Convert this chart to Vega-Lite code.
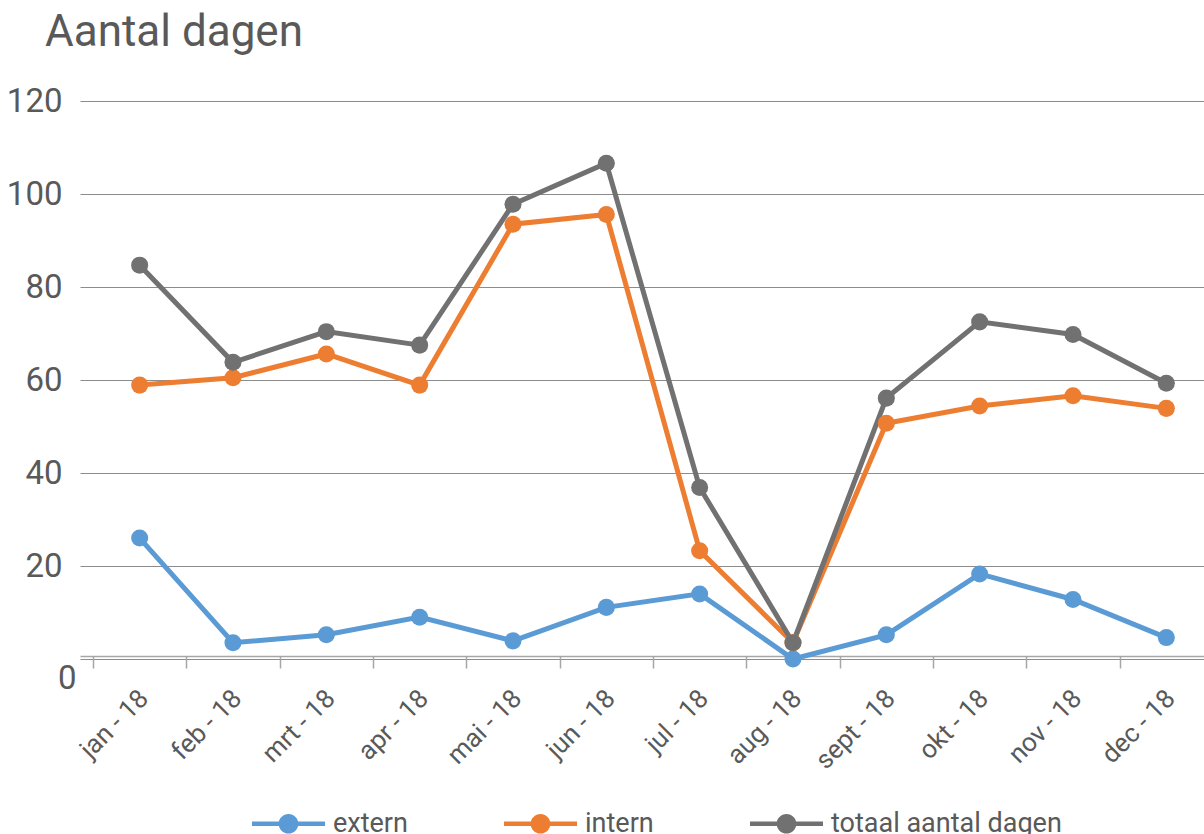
{
  "$schema": "https://vega.github.io/schema/vega-lite/v6.json",
  "width": 1133,
  "height": 558,
  "autosize": "none",
  "padding": {"left": 80, "top": 101, "right": 0, "bottom": 175},
  "background": "white",
  "config": {"view": {"stroke": null}, "font": "Roboto"},
  "title": {"text": "Aantal dagen", "anchor": "start", "frame": "group", "dx": -35, "fontSize": 44, "font": "Roboto", "fontWeight": "normal", "color": "#595959", "baseline": "alphabetic", "offset": -5},
  "data": {"values": [
    {"month": "jan - 18", "series": "extern", "value": 26},
    {"month": "feb - 18", "series": "extern", "value": 3.5},
    {"month": "mrt - 18", "series": "extern", "value": 5.2},
    {"month": "apr - 18", "series": "extern", "value": 9},
    {"month": "mai - 18", "series": "extern", "value": 3.9},
    {"month": "jun - 18", "series": "extern", "value": 11.1},
    {"month": "jul - 18", "series": "extern", "value": 14},
    {"month": "aug - 18", "series": "extern", "value": 0},
    {"month": "sept - 18", "series": "extern", "value": 5.2},
    {"month": "okt - 18", "series": "extern", "value": 18.3},
    {"month": "nov - 18", "series": "extern", "value": 12.8},
    {"month": "dec - 18", "series": "extern", "value": 4.6},
    {"month": "jan - 18", "series": "intern", "value": 58.9},
    {"month": "feb - 18", "series": "intern", "value": 60.5},
    {"month": "mrt - 18", "series": "intern", "value": 65.6},
    {"month": "apr - 18", "series": "intern", "value": 58.9},
    {"month": "mai - 18", "series": "intern", "value": 93.5},
    {"month": "jun - 18", "series": "intern", "value": 95.6},
    {"month": "jul - 18", "series": "intern", "value": 23.3},
    {"month": "aug - 18", "series": "intern", "value": 3.5},
    {"month": "sept - 18", "series": "intern", "value": 50.7},
    {"month": "okt - 18", "series": "intern", "value": 54.4},
    {"month": "nov - 18", "series": "intern", "value": 56.6},
    {"month": "dec - 18", "series": "intern", "value": 53.9},
    {"month": "jan - 18", "series": "totaal aantal dagen", "value": 84.7},
    {"month": "feb - 18", "series": "totaal aantal dagen", "value": 63.8},
    {"month": "mrt - 18", "series": "totaal aantal dagen", "value": 70.4},
    {"month": "apr - 18", "series": "totaal aantal dagen", "value": 67.5},
    {"month": "mai - 18", "series": "totaal aantal dagen", "value": 97.8},
    {"month": "jun - 18", "series": "totaal aantal dagen", "value": 106.6},
    {"month": "jul - 18", "series": "totaal aantal dagen", "value": 36.9},
    {"month": "aug - 18", "series": "totaal aantal dagen", "value": 3.5},
    {"month": "sept - 18", "series": "totaal aantal dagen", "value": 56.1},
    {"month": "okt - 18", "series": "totaal aantal dagen", "value": 72.5},
    {"month": "nov - 18", "series": "totaal aantal dagen", "value": 69.8},
    {"month": "dec - 18", "series": "totaal aantal dagen", "value": 59.3}
  ]},
  "encoding": {
    "x": {
      "field": "month", "type": "nominal", "bandPosition": 0.5,
      "sort": ["jan - 18","feb - 18","mrt - 18","apr - 18","mai - 18","jun - 18","jul - 18","aug - 18","sept - 18","okt - 18","nov - 18","dec - 18"],
      "scale": {"type": "band", "paddingInner": 0, "paddingOuter": 0.0696, "align": 1},
      "axis": {"title": null, "grid": false, "tickBand": "extent", "labelAngle": -45, "labelAlign": "right", "labelBaseline": "middle", "labelFontSize": 26, "labelColor": "#595959", "labelFont": "Roboto", "labelPadding": 26, "labelOffset": 4, "domainColor": "#a6a6a6", "domainWidth": 1.5, "tickColor": "#a6a6a6", "tickWidth": 1.5, "tickSize": 12, "offset": -3}
    },
    "y": {
      "field": "value", "type": "quantitative",
      "scale": {"domain": [0, 120], "nice": false},
      "axis": {"title": null, "values": [0, 20, 40, 60, 80, 100, 120], "domain": false, "ticks": false, "grid": true, "gridColor": "#8c8c8c", "gridWidth": 1, "labelFontSize": 33, "labelColor": "#595959", "labelFont": "Roboto",
        "labelPadding": {"condition": {"test": "datum.value == 0", "value": 4}, "value": 18},
        "labelOffset": {"condition": {"test": "datum.value == 0", "value": 19}, "value": 0}}
    },
    "color": {
      "field": "series", "type": "nominal",
      "scale": {"domain": ["extern", "intern", "totaal aantal dagen"], "range": ["#5B9BD5", "#ED7D31", "#717171"]}
    }
  },
  "resolve": {"legend": {"color": "independent"}},
  "layer": [
    {"mark": {"type": "line", "strokeWidth": 5}, "encoding": {"color": {"field": "series", "type": "nominal", "legend": null}}},
    {"mark": {"type": "point", "filled": true, "size": 290, "opacity": 1},
     "encoding": {"color": {"field": "series", "type": "nominal", "title": null,
       "legend": {"orient": "none", "legendX": 172, "legendY": 686, "direction": "horizontal", "title": null,
         "symbolType": "M-1,-0.065 L1,-0.065 L1,0.065 L-1,0.065 Z M0.27,0 A0.27,0.27 0 1,1 -0.27,0 A0.27,0.27 0 1,1 0.27,0 Z",
         "symbolSize": 5329, "symbolStrokeWidth": 0, "symbolOpacity": 1, "labelFontSize": 27, "labelColor": "#595959", "labelFont": "Roboto", "labelOffset": 8, "labelLimit": 0, "columnPadding": 96}}}}
  ]
}
